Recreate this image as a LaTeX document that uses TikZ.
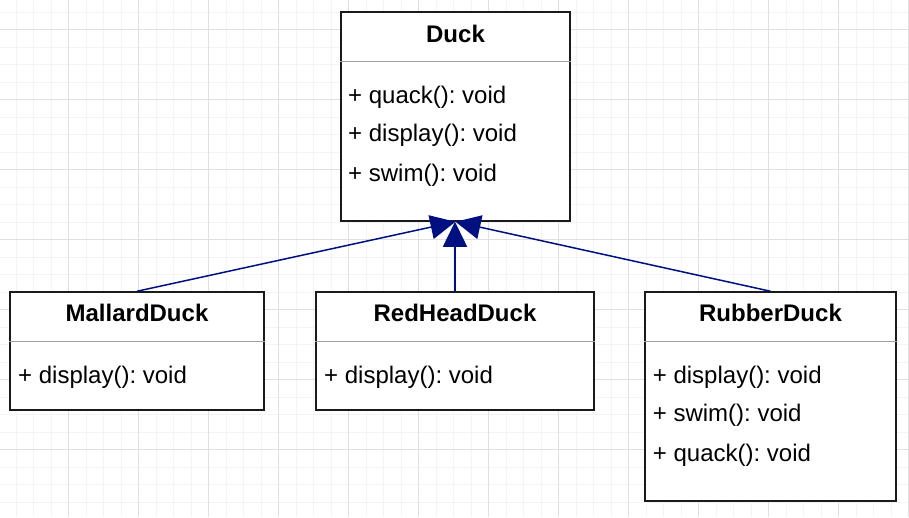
\documentclass[tikz,border=0pt]{standalone}
\usepackage{fontspec}
\setmainfont{Liberation Sans}
\usetikzlibrary{arrows.meta}
\frenchspacing
\definecolor{navyline}{HTML}{001080}
\definecolor{gridminor}{HTML}{F4F4F4}
\definecolor{gridmajor}{HTML}{E0E0E0}
\definecolor{boxline}{HTML}{1A1A1A}
\definecolor{sepline}{HTML}{A0A0A0}
\tikzset{
  minorgrid/.style={draw=gridminor, line width=1pt},
  majorgrid/.style={draw=gridmajor, line width=1pt},
  classbox/.style={draw=boxline, fill=white, line width=1.5pt, rectangle, inner sep=0pt},
  sep/.style={draw=sepline, line width=1.5pt},
  title/.style={anchor=base, inner sep=0pt, font=\fontsize{24}{29}\selectfont\bfseries},
  member/.style={anchor=base west, inner sep=0pt, font=\fontsize{24}{29}\selectfont},
  inh/.style={draw=navyline, line width=1.5pt, -{Triangle[length=25pt, width=24pt, fill=navyline]}}
}
\begin{document}
\begin{tikzpicture}[x=1pt, y=-1pt]
\useasboundingbox (0,0) rectangle (909,517);
\fill[white] (0,0) rectangle (909,517);
% grid
\foreach \i in {0,...,51} {\draw[minorgrid] ({16+17.5*\i},0) -- ++(0,517);}
\foreach \i in {0,...,29} {\draw[minorgrid] (0,{12+17.5*\i}) -- ++(909,0);}
\foreach \i in {0,...,13} {\draw[majorgrid] ({-1.5+70*\i},0) -- ++(0,517);}
\foreach \i in {0,...,7} {\draw[majorgrid] (0,{29.5+70*\i}) -- ++(909,0);}
% classes
\node[classbox, minimum width=229pt, minimum height=209pt] (duck) at (455.5,116.5) {};
\node[classbox, minimum width=254pt, minimum height=118pt] (mallard) at (137,351) {};
\node[classbox, minimum width=278pt, minimum height=118pt] (redhead) at (455,351) {};
\node[classbox, minimum width=251pt, minimum height=209pt] (rubber) at (770.5,396.5) {};
% separators
\draw[sep] ([yshift=-50pt]duck.north west) -- ([yshift=-50pt]duck.north east);
\draw[sep] ([yshift=-50pt]mallard.north west) -- ([yshift=-50pt]mallard.north east);
\draw[sep] ([yshift=-50pt]redhead.north west) -- ([yshift=-50pt]redhead.north east);
\draw[sep] ([yshift=-50pt]rubber.north west) -- ([yshift=-50pt]rubber.north east);
% titles
\node[title] (duckt) at (455.5,42) {Duck};
\node[title] (mallardt) at (137,321.7) {MallardDuck};
\node[title] (redheadt) at (455,321.7) {RedHeadDuck};
\node[title] (rubbert) at (770.5,321.7) {RubberDuck};
% members
\node[member] (d1) at (348,103) {+ quack(): void};
\node[member] (d2) at (348,141) {+ display(): void};
\node[member] (d3) at (348,181) {+ swim(): void};
\node[member] (m1) at (18,383) {+ display(): void};
\node[member] (h1) at (324,383) {+ display(): void};
\node[member] (r1) at (652.7,383) {+ display(): void};
\node[member] (r2) at (652.7,421.5) {+ swim(): void};
\node[member] (r3) at (652.7,461.5) {+ quack(): void};
% inheritance
\draw[inh] (mallard.north) -- (duck.south);
\draw[inh] (redhead.north) -- (redhead.north |- duck.south);
\draw[inh] (rubber.north) -- (duck.south);
\end{tikzpicture}
\end{document}
